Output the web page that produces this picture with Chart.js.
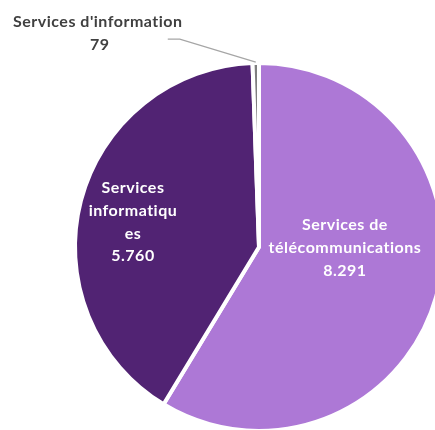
<!DOCTYPE html>
<html>
<head>
<meta charset="utf-8">
<script src="https://cdn.jsdelivr.net/npm/chart.js@4"></script>
<style>
  html, body { margin: 0; padding: 0; background: #ffffff; }
  #pie { display: block; }
</style>
</head>
<body>
<canvas id="pie" width="435" height="430"></canvas>
<script>
// données
const categories = ["Services de télécommunications", "Services informatiques", "Services d'information"];
const values = [8291, 5760, 79];
const valueLabels = ["8.291", "5.760", "79"];
// lignes des étiquettes (comme dans l'original)
const labelLines = [
  ["Services de", "télécommunications"],
  ["Services", "informatiqu", "es"],
  ["Services d'information"]
];
const colors = ["#ad78d6", "#512373", "#7f7f7f"];

const FONT = 'bold 16px Lato, "Open Sans", sans-serif';

// étiquettes de données dessinées à la main
const labelPlugin = {
  id: 'pieLabels',
  afterDatasetsDraw(chart) {
    const ctx = chart.ctx;
    const arcs = chart.getDatasetMeta(0).data;
    ctx.save();
    ctx.font = FONT;
    ctx.letterSpacing = '0.5px';
    ctx.textAlign = 'center';
    ctx.textBaseline = 'middle';

    // intérieur : télécom
    let a = arcs[0];
    let r = a.outerRadius;
    let lines = labelLines[0].concat([valueLabels[0]]);
    let x = a.x + 0.467 * r;
    let y = a.y - 22.5;
    ctx.fillStyle = '#ffffff';
    lines.forEach((t, i) => ctx.fillText(t, x, y + i * 23));

    // intérieur : informatiques
    a = arcs[1];
    r = a.outerRadius;
    lines = labelLines[1].concat([valueLabels[1]]);
    x = a.x - 0.685 * r;
    y = a.y - 0.136 * r - 34;
    lines.forEach((t, i) => ctx.fillText(t, x, y + i * 22.7));

    // extérieur : information + ligne de rappel
    a = arcs[2];
    r = a.outerRadius;
    const mid = (a.startAngle + a.endAngle) / 2;
    const px = a.x + Math.cos(mid) * r;
    const py = a.y + Math.sin(mid) * r - 1;
    ctx.strokeStyle = '#a6a6a6';
    ctx.lineWidth = 1.3;
    ctx.beginPath();
    ctx.moveTo(px, py);
    ctx.lineTo(px - 76, py - 23);
    ctx.lineTo(px - 88, py - 23);
    ctx.stroke();
    ctx.fillStyle = '#404040';
    ctx.fillText(labelLines[2][0], px - 158, py - 40);
    ctx.fillText(valueLabels[2], px - 156, py - 17);
    ctx.restore();
  }
};

new Chart(document.getElementById('pie').getContext('2d'), {
  type: 'pie',
  data: {
    labels: categories,
    datasets: [{
      data: values,
      backgroundColor: colors,
      borderColor: '#ffffff',
      borderWidth: 4,
      radius: 184,
      clip: false
    }]
  },
  options: {
    responsive: false,
    animation: false,
    layout: { padding: { left: 83, right: 0, top: 64, bottom: 0 } },
    plugins: {
      legend: { display: false },
      tooltip: { enabled: false }
    }
  },
  plugins: [labelPlugin]
});
</script>
</body>
</html>
